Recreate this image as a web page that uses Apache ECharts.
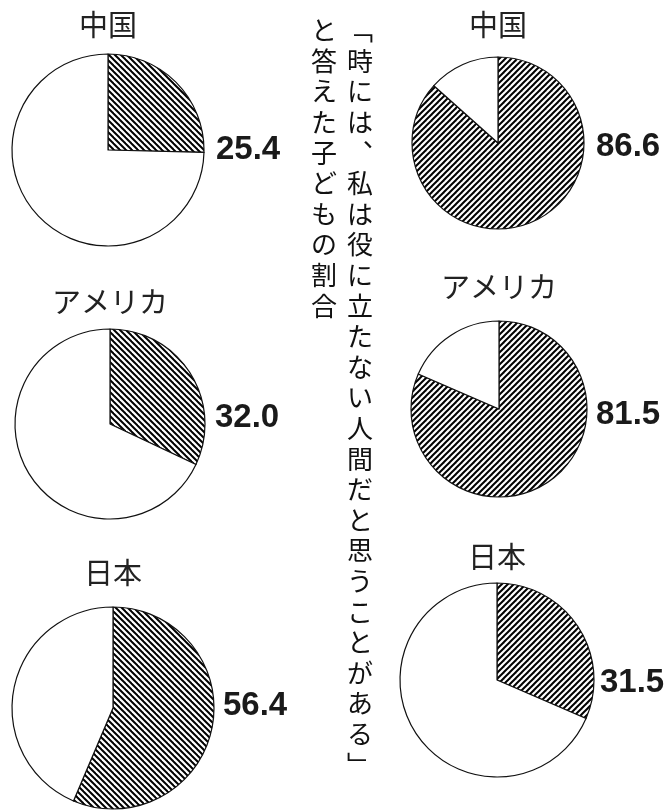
<!DOCTYPE html>
<html>
<head>
<meta charset="utf-8">
<script src="https://cdn.jsdelivr.net/npm/echarts@6/dist/echarts.min.js"></script>
<style>
html,body{margin:0;padding:0;background:#fff;}
#chart{width:669px;height:812px;}
</style>
</head>
<body>
<div id="chart"></div>
<script>
// ---- data ----
const countries = ['中国', 'アメリカ', '日本'];
const leftValues = [25.4, 32.0, 56.4];
const rightValues = [86.6, 81.5, 31.5];
const titleLine1 = '「時には、私は役に立たない人間だと思うことがある」';
const titleLine2 = 'と答えた子どもの割合';

// ---- layout ----
const leftLayout = [
  {cx: 108, cy: 150, r: 96, ly: 25, vx: 216, vy: 150},
  {cx: 110, cy: 424, r: 95, ly: 302, vx: 215, vy: 418},
  {cx: 113, cy: 708, r: 101, ly: 573, vx: 223, vy: 706}
];
const rightLayout = [
  {cx: 498, cy: 143, r: 86, ly: 25, vx: 596, vy: 147},
  {cx: 499, cy: 409, r: 88, ly: 287, vx: 596, vy: 415},
  {cx: 497, cy: 680, r: 97, ly: 557, vx: 600, vy: 683}
];

function hatch(dir) {
  const s = 6;
  const c = document.createElement('canvas');
  c.width = s; c.height = s;
  const g = c.getContext('2d');
  g.fillStyle = '#fff';
  g.fillRect(0, 0, s, s);
  g.strokeStyle = '#000';
  g.lineWidth = 2;
  for (let k = -1; k <= 1; k++) {
    g.beginPath();
    if (dir === 'back') {
      g.moveTo(-1 + k * s, -1);
      g.lineTo(s + 1 + k * s, s + 1);
    } else {
      g.moveTo(-1 + k * s, s + 1);
      g.lineTo(s + 1 + k * s, -1);
    }
    g.stroke();
  }
  return {image: c, repeat: 'repeat'};
}
const patLeft = hatch('back');
const patRight = hatch('fwd');

const series = [];
const graphics = [];
function addPie(val, lay, pat, name) {
  series.push({
    type: 'pie', name: name, center: [lay.cx, lay.cy], radius: lay.r,
    startAngle: 90, clockwise: true, silent: true, animation: false,
    label: {show: false}, labelLine: {show: false},
    emphasis: {disabled: true},
    itemStyle: {borderColor: '#111', borderWidth: 1.2},
    data: [
      {value: val, name: name, itemStyle: {color: pat}},
      {value: +(100 - val).toFixed(1), name: 'その他', itemStyle: {color: '#fff'}}
    ]
  });
  graphics.push({
    type: 'text', x: lay.cx, y: lay.ly,
    style: {text: name, x: 0, y: 0, align: 'center', verticalAlign: 'middle',
      textAlign: 'center', textVerticalAlign: 'middle',
      font: '29px "Noto Sans CJK JP"', fill: '#222'}
  });
  graphics.push({
    type: 'text', x: lay.vx, y: lay.vy,
    style: {text: val.toFixed(1), x: 0, y: 0, align: 'left', verticalAlign: 'middle',
      textAlign: 'left', textVerticalAlign: 'middle',
      font: 'bold 33px "Liberation Sans"', fill: '#1a1a1a'}
  });
}
countries.forEach((c, i) => addPie(leftValues[i], leftLayout[i], patLeft, c));
countries.forEach((c, i) => addPie(rightValues[i], rightLayout[i], patRight, c));

// vertical title (vertical-writing glyph forms for brackets and comma)
const vForms = {'「': '\uFE41', '」': '\uFE42', '、': '\uFE11'};
function vertical(str) {
  return str.split('').map(ch => vForms[ch] || ch).join('\n');
}
const pitch = 30.6;
const col1x = 360, col2x = 324, topY = 15;
const vfont = '26px "Noto Sans CJK JP"';
graphics.push({
  type: 'text', x: col1x, y: topY,
  style: {text: vertical(titleLine1), x: 0, y: 0, align: 'center', verticalAlign: 'top',
    textAlign: 'center', textVerticalAlign: 'top', lineHeight: pitch, font: vfont, fill: '#111'}
});
graphics.push({
  type: 'text', x: col2x, y: topY,
  style: {text: vertical(titleLine2), x: 0, y: 0, align: 'center', verticalAlign: 'top',
    textAlign: 'center', textVerticalAlign: 'top', lineHeight: pitch, font: vfont, fill: '#111'}
});

const chart = echarts.init(document.getElementById('chart'), null, {renderer: 'canvas'});
chart.setOption({
  backgroundColor: '#fff',
  animation: false,
  series: series,
  graphic: {elements: graphics}
});
</script>
</body>
</html>
